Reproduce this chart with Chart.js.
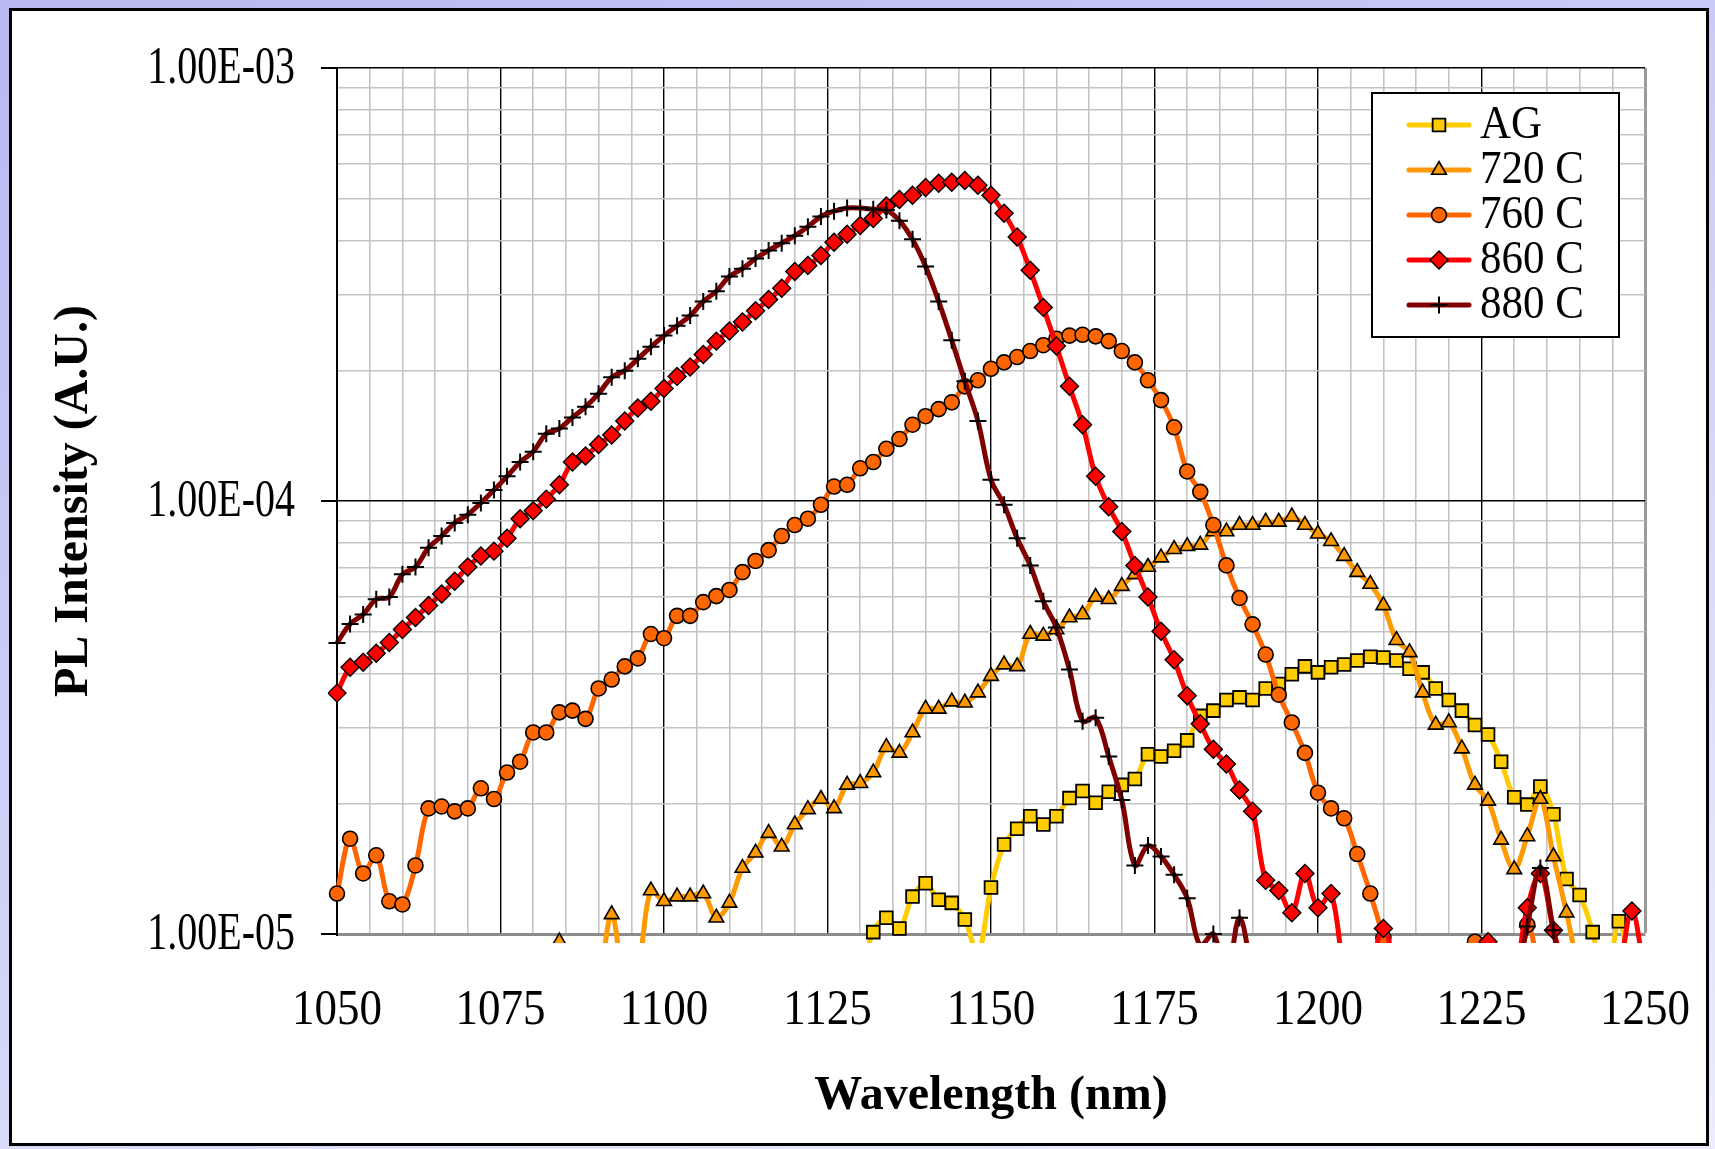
<!DOCTYPE html>
<html>
<head>
<meta charset="utf-8">
<title>PL Intensity vs Wavelength</title>
<script src="https://cdn.jsdelivr.net/npm/chart.js@4.4.1/dist/chart.umd.min.js"></script>
<style>
  html, body { margin: 0; padding: 0; }
  body {
    width: 1715px; height: 1149px; overflow: hidden; position: relative;
    background: linear-gradient(160deg, #B8B8F2 0%, #D4D4F8 55%, #ECECFD 100%);
  }
  #panel {
    position: absolute; left: 9px; top: 8px; width: 1700px; height: 1138px;
    box-sizing: border-box; border: 3px solid #000; background: #fff;
  }
  #c { position: absolute; left: 0; top: 0; }
</style>
</head>
<body>
<div id="panel"></div>
<canvas id="c" width="1715" height="1149"></canvas>
<script>
// ---- data ----
const wavelengths = [
  1050, 1052, 1054, 1056, 1058, 1060, 1062, 1064, 1066, 1068,
  1070, 1072, 1074, 1076, 1078, 1080, 1082, 1084, 1086, 1088,
  1090, 1092, 1094, 1096, 1098, 1100, 1102, 1104, 1106, 1108,
  1110, 1112, 1114, 1116, 1118, 1120, 1122, 1124, 1126, 1128,
  1130, 1132, 1134, 1136, 1138, 1140, 1142, 1144, 1146, 1148,
  1150, 1152, 1154, 1156, 1158, 1160, 1162, 1164, 1166, 1168,
  1170, 1172, 1174, 1176, 1178, 1180, 1182, 1184, 1186, 1188,
  1190, 1192, 1194, 1196, 1198, 1200, 1202, 1204, 1206, 1208,
  1210, 1212, 1214, 1216, 1218, 1220, 1222, 1224, 1226, 1228,
  1230, 1232, 1234, 1236, 1238, 1240, 1242, 1244, 1246, 1248,
  1250
];

// null = far below the 1E-5 floor, nothing of it shows in the reference
const agData = [
  null, null, null, null, null, null, null, null, null, null,
  null, null, null, null, null, null, null, null, null, null,
  null, null, null, null, null, null, null, null, null, null,
  null, null, null, null, null, null, null, null, null, null,
  8e-6, 1.01e-5, 1.09e-5, 1.03e-5, 1.22e-5, 1.31e-5, 1.20e-5, 1.18e-5, 1.08e-5, 9.0e-6,
  1.28e-5, 1.61e-5, 1.75e-5, 1.87e-5, 1.79e-5, 1.87e-5, 2.06e-5, 2.14e-5, 2.01e-5, 2.13e-5,
  2.21e-5, 2.28e-5, 2.60e-5, 2.57e-5, 2.65e-5, 2.80e-5, 3.19e-5, 3.28e-5, 3.47e-5, 3.52e-5,
  3.47e-5, 3.69e-5, 3.78e-5, 3.98e-5, 4.15e-5, 4.02e-5, 4.13e-5, 4.19e-5, 4.28e-5, 4.37e-5,
  4.35e-5, 4.28e-5, 4.10e-5, 4.02e-5, 3.69e-5, 3.47e-5, 3.28e-5, 3.04e-5, 2.89e-5, 2.50e-5,
  2.07e-5, 1.99e-5, 2.19e-5, 1.89e-5, 1.34e-5, 1.23e-5, 1.01e-5, 7.5e-6, 1.07e-5, 7.5e-6,
  null
];

const c720Data = [
  null, null, null, null, null, null, null, null, null, null,
  null, null, null, null, null, null, 7.5e-6, 9.6e-6, 7.5e-6, 6e-6,
  7.5e-6, 1.11e-5, 8e-6, 8.5e-6, 1.26e-5, 1.19e-5, 1.22e-5, 1.22e-5, 1.24e-5, 1.09e-5,
  1.18e-5, 1.42e-5, 1.54e-5, 1.71e-5, 1.59e-5, 1.79e-5, 1.94e-5, 2.05e-5, 1.95e-5, 2.21e-5,
  2.23e-5, 2.36e-5, 2.70e-5, 2.62e-5, 2.92e-5, 3.31e-5, 3.31e-5, 3.44e-5, 3.42e-5, 3.61e-5,
  3.94e-5, 4.19e-5, 4.15e-5, 4.93e-5, 4.88e-5, 5.05e-5, 5.38e-5, 5.47e-5, 6.00e-5, 5.93e-5,
  6.36e-5, 6.77e-5, 7.04e-5, 7.40e-5, 7.74e-5, 7.86e-5, 7.92e-5, 8.50e-5, 8.50e-5, 8.80e-5,
  8.80e-5, 8.95e-5, 8.95e-5, 9.20e-5, 8.80e-5, 8.40e-5, 8.07e-5, 7.46e-5, 6.85e-5, 6.43e-5,
  5.74e-5, 4.77e-5, 4.47e-5, 3.61e-5, 3.04e-5, 3.08e-5, 2.68e-5, 2.21e-5, 2.03e-5, 1.65e-5,
  1.41e-5, 1.68e-5, 2.05e-5, 1.51e-5, 1.12e-5, 8e-6, 6e-6, null, null, null,
  null
];

const c760Data = [
  1.24e-5, 1.66e-5, 1.38e-5, 1.52e-5, 1.19e-5, 1.17e-5, 1.44e-5, 1.95e-5, 1.97e-5, 1.92e-5,
  1.95e-5, 2.17e-5, 2.05e-5, 2.36e-5, 2.50e-5, 2.92e-5, 2.92e-5, 3.25e-5, 3.28e-5, 3.14e-5,
  3.69e-5, 3.87e-5, 4.15e-5, 4.33e-5, 4.93e-5, 4.82e-5, 5.43e-5, 5.43e-5, 5.84e-5, 6.03e-5,
  6.23e-5, 6.85e-5, 7.27e-5, 7.70e-5, 8.30e-5, 8.80e-5, 9.10e-5, 9.80e-5, 1.08e-4, 1.09e-4,
  1.19e-4, 1.23e-4, 1.32e-4, 1.39e-4, 1.50e-4, 1.57e-4, 1.63e-4, 1.69e-4, 1.84e-4, 1.90e-4,
  2.02e-4, 2.09e-4, 2.15e-4, 2.22e-4, 2.29e-4, 2.37e-4, 2.41e-4, 2.42e-4, 2.40e-4, 2.34e-4,
  2.22e-4, 2.09e-4, 1.90e-4, 1.71e-4, 1.48e-4, 1.17e-4, 1.05e-4, 8.80e-5, 7.10e-5, 5.97e-5,
  5.19e-5, 4.42e-5, 3.57e-5, 3.08e-5, 2.62e-5, 2.12e-5, 1.95e-5, 1.85e-5, 1.53e-5, 1.24e-5,
  9.8e-6, 7.5e-6, 6e-6, null, null, null, 7.5e-6, 9.6e-6, 7.5e-6, null,
  7.5e-6, 1.05e-5, 8e-6, 6e-6, null, null, null, null, null, null,
  null
];

const c860Data = [
  3.60e-5, 4.13e-5, 4.24e-5, 4.45e-5, 4.71e-5, 5.05e-5, 5.38e-5, 5.74e-5, 6.10e-5, 6.53e-5,
  7.04e-5, 7.46e-5, 7.66e-5, 8.20e-5, 9.10e-5, 9.50e-5, 1.01e-4, 1.09e-4, 1.23e-4, 1.27e-4,
  1.35e-4, 1.42e-4, 1.53e-4, 1.64e-4, 1.70e-4, 1.82e-4, 1.94e-4, 2.04e-4, 2.18e-4, 2.34e-4,
  2.47e-4, 2.59e-4, 2.75e-4, 2.92e-4, 3.10e-4, 3.39e-4, 3.50e-4, 3.69e-4, 3.96e-4, 4.13e-4,
  4.33e-4, 4.49e-4, 4.80e-4, 4.97e-4, 5.08e-4, 5.30e-4, 5.42e-4, 5.45e-4, 5.50e-4, 5.36e-4,
  5.08e-4, 4.62e-4, 4.07e-4, 3.41e-4, 2.80e-4, 2.28e-4, 1.84e-4, 1.50e-4, 1.14e-4, 9.70e-5,
  8.50e-5, 7.10e-5, 6.00e-5, 5.00e-5, 4.30e-5, 3.55e-5, 3.06e-5, 2.67e-5, 2.47e-5, 2.15e-5,
  1.92e-5, 1.33e-5, 1.26e-5, 1.12e-5, 1.38e-5, 1.15e-5, 1.24e-5, 8e-6, 6e-6, 8e-6,
  1.03e-5, 8e-6, 6e-6, null, null, null, null, 7.5e-6, 9.6e-6, 7.5e-6,
  8e-6, 1.15e-5, 1.38e-5, 1.02e-5, 8e-6, 6e-6, null, 6e-6, 8e-6, 1.13e-5,
  8e-6
];

const c880Data = [
  4.70e-5, 5.20e-5, 5.47e-5, 5.93e-5, 6.00e-5, 6.77e-5, 7.04e-5, 7.80e-5, 8.30e-5, 8.90e-5,
  9.30e-5, 9.90e-5, 1.06e-4, 1.14e-4, 1.23e-4, 1.30e-4, 1.43e-4, 1.47e-4, 1.56e-4, 1.65e-4,
  1.77e-4, 1.93e-4, 2.00e-4, 2.13e-4, 2.27e-4, 2.41e-4, 2.54e-4, 2.68e-4, 2.89e-4, 3.05e-4,
  3.30e-4, 3.44e-4, 3.63e-4, 3.79e-4, 3.94e-4, 4.10e-4, 4.30e-4, 4.54e-4, 4.67e-4, 4.75e-4,
  4.75e-4, 4.72e-4, 4.70e-4, 4.44e-4, 4.02e-4, 3.48e-4, 2.89e-4, 2.35e-4, 1.89e-4, 1.53e-4,
  1.12e-4, 9.80e-5, 8.20e-5, 7.10e-5, 5.87e-5, 5.10e-5, 4.08e-5, 3.10e-5, 3.16e-5, 2.57e-5,
  2.04e-5, 1.44e-5, 1.60e-5, 1.51e-5, 1.37e-5, 1.21e-5, 9.4e-6, 1.00e-5, 8e-6, 1.09e-5,
  8e-6, 6e-6, null, null, null, null, null, null, null, null,
  null, null, null, null, null, null, null, null, null, 6e-6,
  7.5e-6, 1.04e-5, 1.42e-5, 1.02e-5, 7e-6, 6e-6, null, null, null, null,
  null
];

const seriesNames = ['AG', '720 C', '760 C', '860 C', '880 C'];

// axis ticks
const xTickValues = [1050, 1075, 1100, 1125, 1150, 1175, 1200, 1225, 1250];
const yTickValues = [1e-5, 1e-4, 1e-3];
const yTickLabels = ['1.00E-05', '1.00E-04', '1.00E-03'];
const yGridValues = [
  1e-5, 2e-5, 3e-5, 4e-5, 5e-5, 6e-5, 7e-5, 8e-5, 9e-5,
  1e-4, 2e-4, 3e-4, 4e-4, 5e-4, 6e-4, 7e-4, 8e-4, 9e-4, 1e-3
];
const xGridValues = [];
for (let v = 1050; v <= 1250; v += 5) xGridValues.push(v);

const SERIF = '"Liberation Serif", "Times New Roman", serif';

function toPoints(arr) {
  return wavelengths.map((w, i) => ({ x: w, y: arr[i] }));
}

function makeSet(k, arr, color, style, radius, markerLine, order) {
  return {
    label: seriesNames[k],
    data: toPoints(arr),
    borderColor: color,
    backgroundColor: color,
    borderWidth: 5,
    tension: 0.35,
    pointStyle: style,
    pointRadius: radius,
    pointBackgroundColor: color,
    pointBorderColor: '#000',
    pointBorderWidth: markerLine,
    clip: { left: 9, top: 9, right: 9, bottom: 9 },
    order: order
  };
}

// text drawn a bit taller than wide, like the original
function stretchText(ctx, txt, x, y, font, sy, align) {
  ctx.save();
  ctx.translate(x, y);
  ctx.scale(1, sy);
  ctx.font = font;
  ctx.textAlign = align;
  ctx.textBaseline = 'middle';
  ctx.fillStyle = '#000';
  ctx.fillText(txt, 0, 0);
  ctx.restore();
}

const axisDecor = {
  id: 'axisDecor',
  afterDraw(chart) {
    const { ctx, chartArea: a, scales: { x, y } } = chart;
    ctx.save();
    ctx.strokeStyle = '#000';
    ctx.lineWidth = 2;
    yTickValues.forEach((v, k) => {
      const py = y.getPixelForValue(v);
      ctx.beginPath();
      ctx.moveTo(a.left - 16, py);
      ctx.lineTo(a.left, py);
      ctx.stroke();
      stretchText(ctx, yTickLabels[k], a.left - 42, py + 1, '40px ' + SERIF, 1.3, 'right');
    });
    xTickValues.forEach(v => {
      stretchText(ctx, String(v), x.getPixelForValue(v), a.bottom + 77, '45px ' + SERIF, 1.12, 'center');
    });
    // axis titles
    stretchText(ctx, 'Wavelength (nm)', (a.left + a.right) / 2, a.bottom + 163, 'bold 48px ' + SERIF, 1, 'center');
    ctx.save();
    ctx.translate(75, (a.top + a.bottom) / 2);
    ctx.rotate(-Math.PI / 2);
    stretchText(ctx, 'PL Intensity (A.U.)', 0, 0, 'bold 48px ' + SERIF, 1, 'center');
    ctx.restore();
    ctx.restore();
  }
};

const legendBox = {
  id: 'legendBox',
  afterDraw(chart) {
    const { ctx, chartArea: a } = chart;
    const bx = a.right - 273, by = a.top + 25, bw = 247, bh = 244;
    ctx.save();
    ctx.fillStyle = '#fff';
    ctx.fillRect(bx, by, bw, bh);
    ctx.strokeStyle = '#000';
    ctx.lineWidth = 2;
    ctx.strokeRect(bx, by, bw, bh);
    chart.data.datasets.forEach((ds, k) => {
      const cy = by + 32 + k * 45;
      ctx.strokeStyle = ds.borderColor;
      ctx.lineWidth = ds.borderWidth;
      ctx.lineCap = 'round';
      ctx.beginPath();
      ctx.moveTo(bx + 37, cy);
      ctx.lineTo(bx + 97, cy);
      ctx.stroke();
      ctx.lineCap = 'butt';
      ctx.fillStyle = ds.pointBackgroundColor;
      ctx.strokeStyle = ds.pointBorderColor;
      ctx.lineWidth = ds.pointBorderWidth;
      Chart.helpers.drawPoint(ctx, {
        pointStyle: ds.pointStyle, radius: ds.pointRadius, rotation: 0, borderWidth: ds.pointBorderWidth
      }, bx + 67, cy);
      stretchText(ctx, ds.label, bx + 108, cy + 1, '43px ' + SERIF, 1.07, 'left');
    });
    ctx.restore();
  }
};

function isDecade(v) {
  const l = Math.log10(v);
  return Math.abs(l - Math.round(l)) < 1e-6;
}

new Chart(document.getElementById('c'), {
  type: 'line',
  data: {
    datasets: [
      makeSet(0, agData, '#FFCC00', 'rect', 9, 1.8, 4),
      makeSet(1, c720Data, '#FF9900', 'triangle', 8.5, 1.6, 3),
      makeSet(2, c760Data, '#FF6600', 'circle', 7.5, 1.6, 2),
      makeSet(3, c860Data, '#FF0000', 'rectRot', 9, 1.4, 1),
      makeSet(4, c880Data, '#800000', 'cross', 8.5, 2, 0)
    ]
  },
  options: {
    responsive: false,
    animation: false,
    events: [],
    layout: { padding: { left: 337, top: 68, right: 70, bottom: 215 }, autoPadding: false },
    plugins: { legend: { display: false }, tooltip: { enabled: false } },
    scales: {
      x: {
        type: 'linear', min: 1050, max: 1250,
        afterBuildTicks: s => { s.ticks = xGridValues.map(v => ({ value: v })); },
        ticks: { display: false },
        grid: {
          drawTicks: false,
          color: c => c.tick.value === 1250 ? '#9A9A9A' : ((c.tick.value - 1050) % 25 === 0 ? '#000' : '#C4C4C4'),
          lineWidth: c => c.tick.value === 1250 ? 3 : ((c.tick.value - 1050) % 25 === 0 ? 1.4 : 1.6)
        },
        border: { display: true, color: '#8C8C8C', width: 3 }
      },
      y: {
        type: 'logarithmic', min: 1e-5, max: 1e-3,
        afterBuildTicks: s => { s.ticks = yGridValues.map(v => ({ value: v })); },
        ticks: { display: false },
        grid: {
          drawTicks: false,
          color: c => c.tick.value === 1e-5 ? '#8C8C8C' : (isDecade(c.tick.value) ? '#000' : '#C4C4C4'),
          lineWidth: c => c.tick.value === 1e-5 ? 3 : (isDecade(c.tick.value) ? 1.4 : 1.6)
        },
        border: { display: true, color: '#000', width: 2 }
      }
    }
  },
  plugins: [axisDecor, legendBox]
});
</script>
</body>
</html>
